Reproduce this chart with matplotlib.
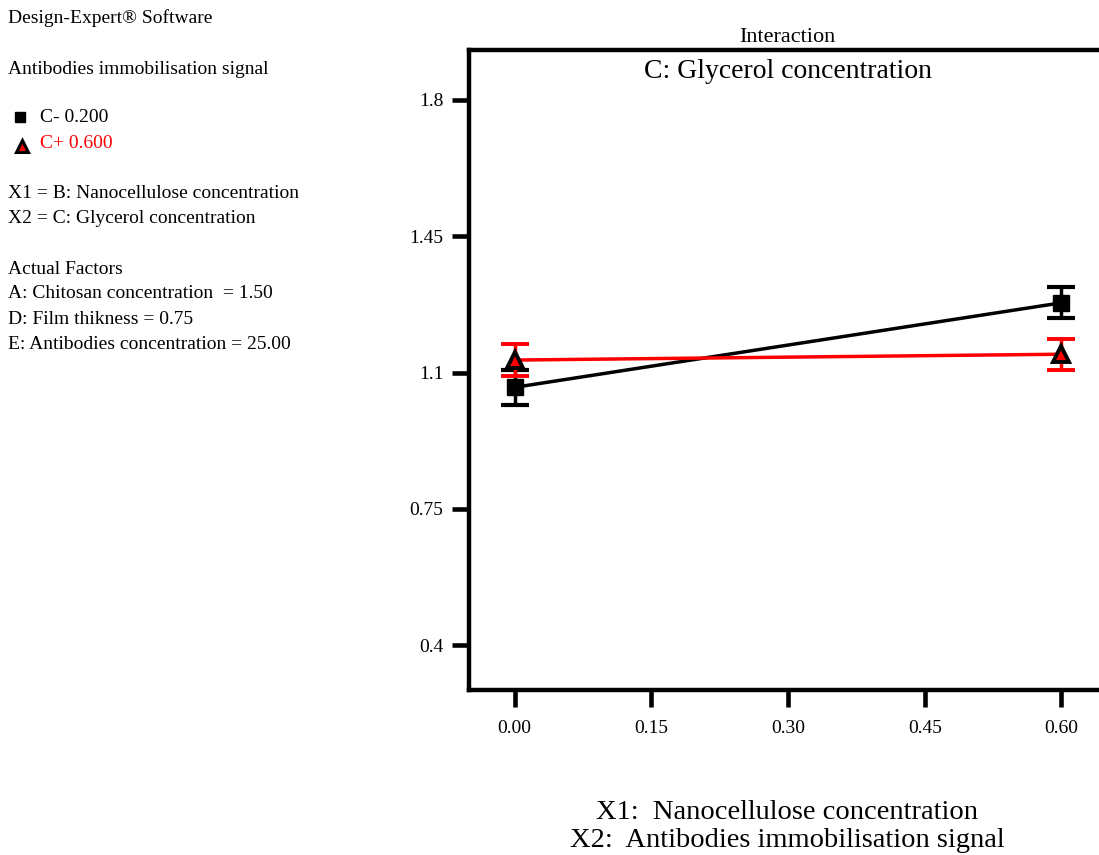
import numpy as np
import matplotlib.pyplot as plt

plt.rcParams['font.family'] = ['Liberation Serif', 'DejaVu Serif']

# data
x_levels = [0.00, 0.60]
low_mean = [1.062, 1.279]     # C- 0.200
low_err = [0.045, 0.040]
high_mean = [1.132, 1.147]    # C+ 0.600
high_err = [0.040, 0.040]
xticks = [0.00, 0.15, 0.30, 0.45, 0.60]
xtick_labels = ['0.00', '0.15', '0.30', '0.45', '0.60']
yticks = [0.4, 0.75, 1.1, 1.45, 1.8]
ytick_labels = ['0.4', '0.75', '1.1', '1.45', '1.8']

info_lines = [
    (18, 'Design-Expert® Software'),
    (69, 'Antibodies immobilisation signal'),
    (193, 'X1 = B: Nanocellulose concentration'),
    (218, 'X2 = C: Glycerol concentration'),
    (269, 'Actual Factors'),
    (294, 'A: Chitosan concentration  = 1.50'),
    (319, 'D: Film thikness = 0.75'),
    (344, 'E: Antibodies concentration = 25.00'),
]

W, H = 1099, 855
fig = plt.figure(figsize=(W / 100, H / 100), dpi=100)

# axes box: left 469px, top 50px, bottom 690px, right runs past the figure edge
left, right, top, bottom = 469, 1107, 50, 690
ax = fig.add_axes([left / W, 1 - bottom / H, (right - left) / W, (bottom - top) / H])

ax.errorbar(x_levels, low_mean, yerr=low_err, color='black', lw=2.5,
            marker='s', ms=11, capsize=10, capthick=3, elinewidth=2.5, zorder=3)
ax.errorbar(x_levels, high_mean, yerr=high_err, color='red', lw=2.5,
            ecolor='red', marker='^', ms=11, mfc='red', mec='black', mew=2.8,
            capsize=10, capthick=3, elinewidth=2.5, zorder=4)

ax.set_xlim(-0.05, 0.65)
ax.set_ylim(0.285, 1.928)
ax.set_xticks(xticks)
ax.set_xticklabels(xtick_labels)
ax.set_yticks(yticks)
ax.set_yticklabels(ytick_labels)
ax.tick_params(direction='out', length=12.5, width=3.3, labelsize=14, pad=6)
ax.tick_params(axis='x', pad=9)
for s in ax.spines.values():
    s.set_linewidth(3.2)

fig.text(787 / W, 1 - 38 / H, 'Interaction', ha='center', va='center', fontsize=16)
ax.text(0.5, 0.986, 'C: Glycerol concentration', transform=ax.transAxes,
        ha='center', va='top', fontsize=20)

fig.text(787 / W, 1 - 812 / H, 'X1:  Nanocellulose concentration',
         ha='center', va='center', fontsize=20.5)
fig.text(787 / W, 1 - 840 / H, 'X2:  Antibodies immobilisation signal',
         ha='center', va='center', fontsize=20.5)

for y, t in info_lines:
    fig.text(8 / W, 1 - y / H, t, ha='left', va='center', fontsize=14)

# legend entries
fig.text(40 / W, 1 - 117 / H, 'C- 0.200', ha='left', va='center', fontsize=14)
fig.text(40 / W, 1 - 143 / H, 'C+ 0.600', ha='left', va='center', fontsize=14, color='red')
fig.lines.append(plt.Line2D([20 / W], [1 - 117 / H], transform=fig.transFigure,
                            marker='s', ms=7, color='black', ls=''))
fig.lines.append(plt.Line2D([22 / W], [1 - 146 / H], transform=fig.transFigure,
                            marker='^', ms=9, mfc='red', mec='black', mew=2.2, ls=''))

fig.savefig('out.png', dpi=100)
